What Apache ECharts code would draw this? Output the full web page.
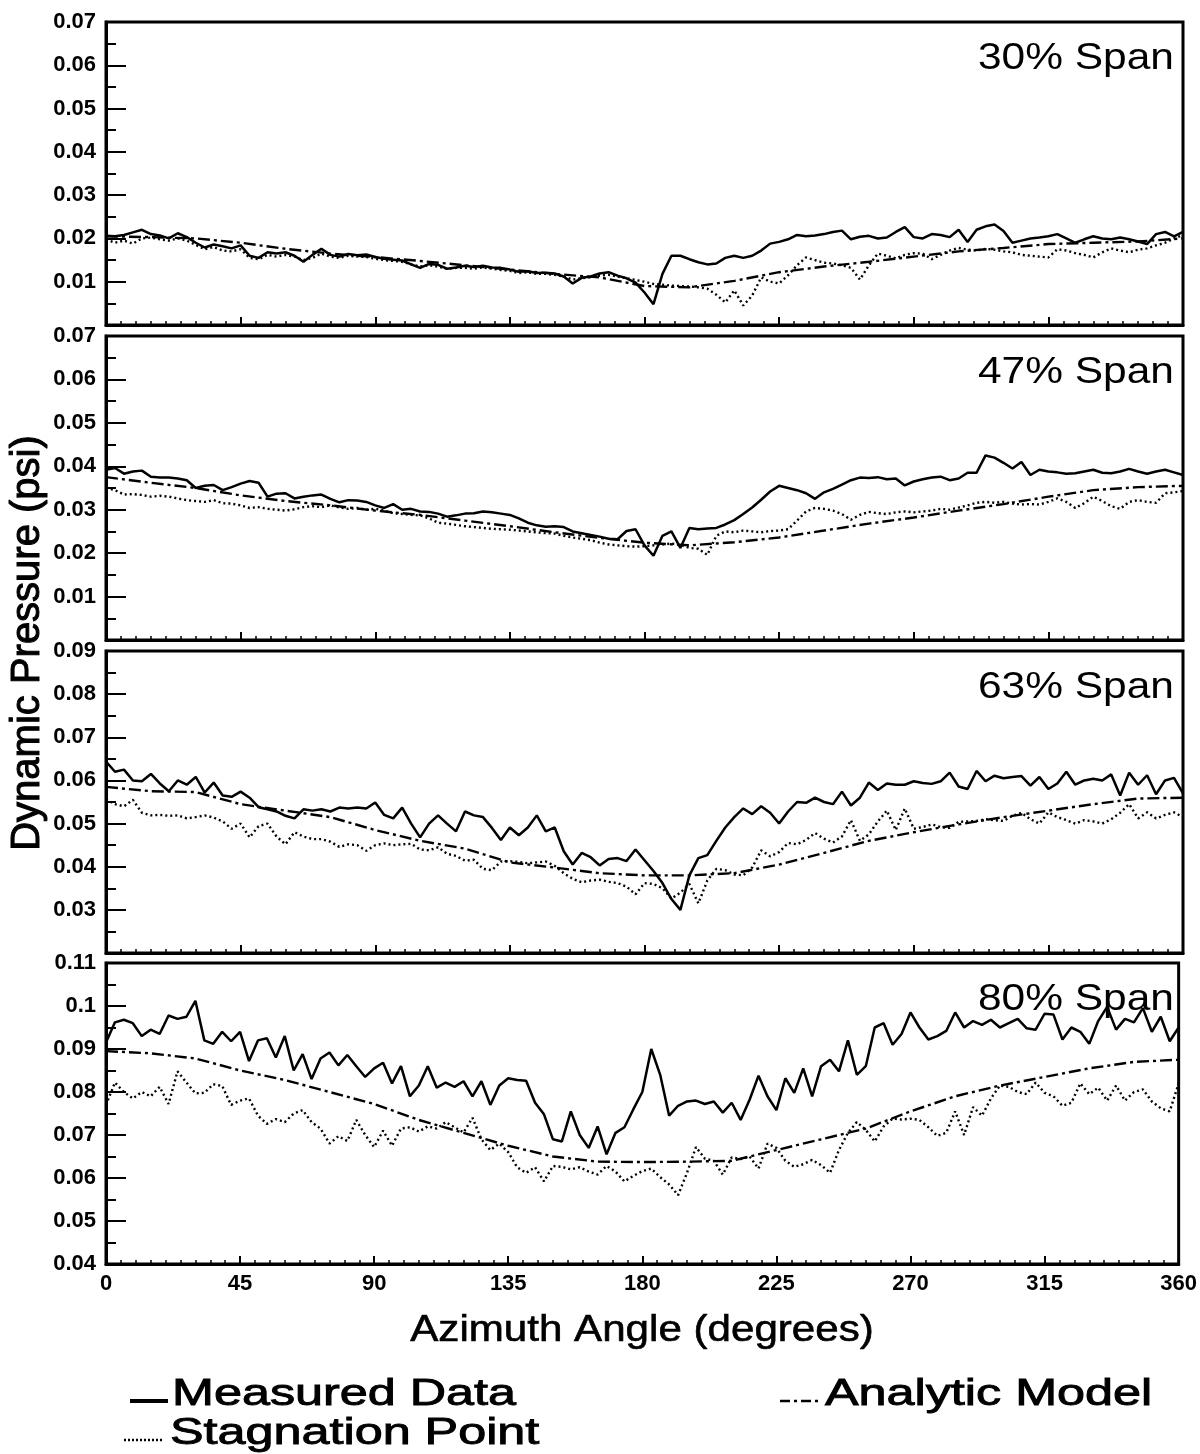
<!DOCTYPE html>
<html>
<head>
<meta charset="utf-8">
<script src="https://cdn.jsdelivr.net/npm/echarts@6/dist/echarts.min.js"></script>
<style>
  html, body { margin: 0; padding: 0; background: #fff; }
  #chart { width: 1200px; height: 1454px; }
</style>
</head>
<body>
<div id="chart"></div>
<script>
// Azimuth angles (degrees) of the sampled traces and of the analytic model
const sampleAngles = [0,3,6,9,12,15,18,21,24,27,30,33,36,39,42,45,48,51,54,57,60,63,66,69,72,75,78,81,84,87,
  90,93,96,99,102,105,108,111,114,117,120,123,126,129,132,135,138,141,144,147,150,153,156,159,162,165,168,171,174,177,
  180,183,186,189,192,195,198,201,204,207,210,213,216,219,222,225,228,231,234,237,240,243,246,249,252,255,258,261,264,267,
  270,273,276,279,282,285,288,291,294,297,300,303,306,309,312,315,318,321,324,327,330,333,336,339,342,345,348,351,354,357,360];
const modelAngles = [0,15,30,45,60,75,90,105,120,135,150,165,180,195,210,225,240,255,270,285,300,315,330,345,360];

const xTicks = [0, 45, 90, 135, 180, 225, 270, 315, 360];

// 30% span (psi)
const measured30 = [
  0.0206,0.0205,0.0208,0.0214,0.0220,0.0210,0.0207,0.0200,0.0212,0.0203,
  0.0190,0.0179,0.0186,0.0182,0.0177,0.0184,0.0160,0.0155,0.0168,0.0165,
  0.0168,0.0160,0.0146,0.0162,0.0176,0.0162,0.0158,0.0164,0.0161,0.0163,
  0.0157,0.0153,0.0151,0.0149,0.0140,0.0132,0.0141,0.0139,0.0130,0.0133,
  0.0137,0.0134,0.0137,0.0133,0.0132,0.0128,0.0123,0.0124,0.0120,0.0121,
  0.0119,0.0112,0.0096,0.0109,0.0112,0.0119,0.0122,0.0114,0.0108,0.0098,
  0.0075,0.0048,0.0118,0.0160,0.0160,0.0152,0.0145,0.0140,0.0142,0.0155,
  0.0160,0.0155,0.0160,0.0172,0.0188,0.0192,0.0198,0.0208,0.0205,0.0207,
  0.0210,0.0215,0.0218,0.0198,0.0204,0.0206,0.0200,0.0202,0.0215,0.0226,
  0.0203,0.0200,0.0210,0.0208,0.0203,0.0220,0.0192,0.0220,0.0228,0.0232,
  0.0217,0.0190,0.0195,0.0200,0.0202,0.0205,0.0210,0.0200,0.0190,0.0198,
  0.0205,0.0200,0.0198,0.0202,0.0198,0.0193,0.0187,0.0210,0.0215,0.0205,
  0.0215];
const stagnation30 = [
  0.0198,0.0190,0.0195,0.0188,0.0200,0.0202,0.0198,0.0195,0.0200,0.0195,
  0.0185,0.0175,0.0180,0.0172,0.0170,0.0175,0.0155,0.0152,0.0162,0.0158,
  0.0162,0.0158,0.0150,0.0155,0.0165,0.0158,0.0155,0.0160,0.0158,0.0157,
  0.0153,0.0150,0.0148,0.0146,0.0140,0.0135,0.0138,0.0135,0.0130,0.0132,
  0.0132,0.0130,0.0133,0.0130,0.0127,0.0125,0.0120,0.0122,0.0118,0.0118,
  0.0116,0.0112,0.0105,0.0108,0.0110,0.0114,0.0116,0.0112,0.0108,0.0104,
  0.0100,0.0095,0.0093,0.0091,0.0090,0.0089,0.0087,0.0084,0.0070,0.0052,
  0.0080,0.0045,0.0068,0.0110,0.0100,0.0096,0.0115,0.0138,0.0156,0.0150,
  0.0144,0.0142,0.0138,0.0132,0.0105,0.0138,0.0165,0.0160,0.0154,0.0162,
  0.0166,0.0165,0.0152,0.0162,0.0172,0.0178,0.0174,0.0172,0.0176,0.0174,
  0.0170,0.0168,0.0162,0.0160,0.0158,0.0156,0.0175,0.0172,0.0166,0.0162,
  0.0156,0.0168,0.0177,0.0172,0.0168,0.0174,0.0177,0.0184,0.0190,0.0200,
  0.0208];
const model30 = [0.0205,0.0203,0.0200,0.0190,0.0176,0.0165,0.0157,0.0148,0.0138,0.0128,0.0118,0.0110,
  0.0090,0.0087,0.0102,0.0122,0.0135,0.0146,0.0158,0.0170,0.0178,0.0187,0.0190,0.0193,0.0200];

// 47% span (psi)
const measured47 = [
  0.0392,0.0396,0.0383,0.0388,0.0390,0.0376,0.0374,0.0374,0.0372,0.0368,
  0.0350,0.0355,0.0357,0.0345,0.0352,0.0360,0.0366,0.0362,0.0330,0.0337,
  0.0338,0.0326,0.0330,0.0333,0.0335,0.0325,0.0317,0.0322,0.0321,0.0318,
  0.0310,0.0304,0.0313,0.0300,0.0302,0.0296,0.0295,0.0291,0.0284,0.0287,
  0.0291,0.0292,0.0296,0.0294,0.0291,0.0288,0.0280,0.0270,0.0264,0.0261,
  0.0262,0.0260,0.0250,0.0246,0.0242,0.0238,0.0233,0.0232,0.0251,0.0255,
  0.0218,0.0194,0.0240,0.0250,0.0212,0.0258,0.0255,0.0257,0.0258,0.0266,
  0.0276,0.0290,0.0305,0.0323,0.0342,0.0355,0.0350,0.0345,0.0338,0.0325,
  0.0340,0.0348,0.0358,0.0368,0.0374,0.0373,0.0375,0.0370,0.0372,0.0356,
  0.0365,0.0370,0.0374,0.0376,0.0368,0.0372,0.0385,0.0385,0.0425,0.0420,
  0.0408,0.0395,0.0410,0.0380,0.0392,0.0388,0.0386,0.0383,0.0384,0.0388,
  0.0392,0.0385,0.0384,0.0388,0.0394,0.0388,0.0383,0.0388,0.0392,0.0386,
  0.0380];
const stagnation47 = [
  0.0350,0.0345,0.0335,0.0336,0.0334,0.0330,0.0332,0.0330,0.0326,0.0322,
  0.0320,0.0318,0.0322,0.0315,0.0314,0.0310,0.0304,0.0306,0.0302,0.0300,
  0.0298,0.0301,0.0306,0.0308,0.0306,0.0310,0.0305,0.0302,0.0304,0.0300,
  0.0302,0.0298,0.0292,0.0290,0.0288,0.0287,0.0280,0.0270,0.0268,0.0265,
  0.0262,0.0260,0.0258,0.0256,0.0255,0.0254,0.0252,0.0250,0.0248,0.0246,
  0.0245,0.0240,0.0236,0.0233,0.0230,0.0224,0.0220,0.0218,0.0216,0.0215,
  0.0216,0.0218,0.0220,0.0222,0.0220,0.0212,0.0210,0.0196,0.0240,0.0250,
  0.0248,0.0252,0.0250,0.0248,0.0251,0.0252,0.0255,0.0275,0.0296,0.0304,
  0.0302,0.0298,0.0290,0.0277,0.0288,0.0295,0.0292,0.0290,0.0294,0.0296,
  0.0294,0.0296,0.0298,0.0302,0.0300,0.0305,0.0310,0.0316,0.0318,0.0316,
  0.0318,0.0314,0.0312,0.0313,0.0312,0.0318,0.0326,0.0318,0.0304,0.0315,
  0.0330,0.0320,0.0308,0.0302,0.0318,0.0322,0.0318,0.0316,0.0338,0.0340,
  0.0343];
const model47 = [0.0375,0.0362,0.0350,0.0333,0.0320,0.0310,0.0298,0.0288,0.0275,0.0262,0.0248,0.0235,
  0.0224,0.0218,0.0225,0.0236,0.0252,0.0268,0.0282,0.0298,0.0313,0.0330,0.0345,0.0352,0.0355];

// 63% span (psi)
const measured63 = [
  0.0644,0.0620,0.0625,0.0600,0.0598,0.0615,0.0593,0.0575,0.0600,0.0590,
  0.0608,0.0572,0.0595,0.0565,0.0562,0.0574,0.0560,0.0538,0.0533,0.0528,
  0.0518,0.0512,0.0533,0.0530,0.0533,0.0528,0.0537,0.0535,0.0537,0.0535,
  0.0549,0.0520,0.0512,0.0537,0.0500,0.0468,0.0500,0.0519,0.0500,0.0482,
  0.0528,0.0519,0.0515,0.0490,0.0462,0.0491,0.0473,0.0491,0.0519,0.0482,
  0.0491,0.0436,0.0405,0.0432,0.0422,0.0403,0.0418,0.0420,0.0413,0.0440,
  0.0415,0.0390,0.0362,0.0325,0.0300,0.0380,0.0420,0.0427,0.0460,0.0491,
  0.0515,0.0535,0.0522,0.0540,0.0525,0.0500,0.0528,0.0550,0.0548,0.0560,
  0.0550,0.0545,0.0574,0.0542,0.0560,0.0595,0.0578,0.0593,0.0590,0.0590,
  0.0598,0.0594,0.0592,0.0598,0.0618,0.0586,0.0580,0.0622,0.0598,0.0611,
  0.0605,0.0608,0.0610,0.0588,0.0608,0.0580,0.0593,0.0620,0.0590,0.0600,
  0.0604,0.0600,0.0614,0.0565,0.0618,0.0590,0.0612,0.0568,0.0600,0.0606,
  0.0570];
const stagnation63 = [
  0.0556,0.0545,0.0540,0.0555,0.0525,0.0519,0.0520,0.0518,0.0519,0.0512,
  0.0515,0.0519,0.0514,0.0505,0.0488,0.0500,0.0468,0.0494,0.0500,0.0470,
  0.0452,0.0480,0.0470,0.0464,0.0464,0.0458,0.0446,0.0452,0.0450,0.0437,
  0.0450,0.0454,0.0450,0.0452,0.0453,0.0440,0.0438,0.0445,0.0430,0.0425,
  0.0414,0.0416,0.0395,0.0392,0.0412,0.0413,0.0411,0.0408,0.0410,0.0412,
  0.0402,0.0385,0.0372,0.0364,0.0368,0.0370,0.0365,0.0362,0.0354,0.0336,
  0.0362,0.0360,0.0350,0.0326,0.0340,0.0360,0.0315,0.0368,0.0395,0.0392,
  0.0382,0.0380,0.0398,0.0438,0.0424,0.0434,0.0455,0.0452,0.0462,0.0478,
  0.0465,0.0456,0.0470,0.0508,0.0460,0.0475,0.0505,0.0530,0.0485,0.0535,
  0.0488,0.0492,0.0498,0.0492,0.0490,0.0504,0.0505,0.0506,0.0510,0.0508,
  0.0506,0.0518,0.0525,0.0510,0.0500,0.0526,0.0515,0.0508,0.0500,0.0508,
  0.0505,0.0500,0.0510,0.0525,0.0545,0.0512,0.0526,0.0512,0.0520,0.0526,
  0.0515];
const model63 = [0.0585,0.0575,0.0573,0.0545,0.0530,0.0515,0.0485,0.0460,0.0442,0.0410,0.0398,0.0385,
  0.0380,0.0380,0.0385,0.0405,0.0432,0.0460,0.0480,0.0498,0.0515,0.0530,0.0545,0.0558,0.0560];

// 80% span (psi)
const measured80 = [
  0.0915,0.0962,0.0968,0.0960,0.0930,0.0945,0.0935,0.0978,0.0970,0.0975,
  0.1012,0.0920,0.0912,0.0940,0.0918,0.0940,0.0872,0.0920,0.0925,0.0880,
  0.0930,0.0850,0.0888,0.0830,0.0878,0.0892,0.0862,0.0886,0.0860,0.0835,
  0.0855,0.0868,0.0820,0.0860,0.0790,0.0815,0.0860,0.0810,0.0822,0.0812,
  0.0825,0.0790,0.0825,0.0770,0.0815,0.0832,0.0828,0.0826,0.0775,0.0748,
  0.0690,0.0685,0.0755,0.0700,0.0670,0.0720,0.0655,0.0705,0.0718,0.0760,
  0.0800,0.0900,0.0840,0.0745,0.0768,0.0778,0.0780,0.0772,0.0778,0.0752,
  0.0775,0.0735,0.0782,0.0838,0.0790,0.0758,0.0832,0.0798,0.0855,0.0790,
  0.0860,0.0875,0.0848,0.0920,0.0840,0.0860,0.0950,0.0960,0.0910,0.0935,
  0.0985,0.0950,0.0922,0.0930,0.0942,0.0985,0.0950,0.0965,0.0956,0.0968,
  0.0950,0.0960,0.0970,0.0948,0.0945,0.0982,0.0980,0.0922,0.0950,0.0940,
  0.0912,0.0965,0.0998,0.0945,0.0970,0.0962,0.0995,0.0940,0.0975,0.0918,
  0.0950];
const stagnation80 = [
  0.0770,0.0822,0.0800,0.0785,0.0800,0.0790,0.0812,0.0772,0.0848,0.0822,
  0.0797,0.0798,0.0818,0.0814,0.0770,0.0780,0.0785,0.0745,0.0726,0.0737,
  0.0730,0.0750,0.0758,0.0730,0.0715,0.0680,0.0697,0.0686,0.0735,0.0700,
  0.0672,0.0710,0.0675,0.0715,0.0718,0.0708,0.0720,0.0715,0.0730,0.0718,
  0.0706,0.0740,0.0690,0.0665,0.0680,0.0660,0.0625,0.0612,0.0625,0.0592,
  0.0628,0.0626,0.0620,0.0625,0.0615,0.0608,0.0628,0.0615,0.0592,0.0605,
  0.0616,0.0622,0.0602,0.0585,0.0560,0.0612,0.0672,0.0645,0.0640,0.0608,
  0.0648,0.0644,0.0650,0.0622,0.0680,0.0670,0.0640,0.0626,0.0632,0.0642,
  0.0630,0.0612,0.0665,0.0705,0.0730,0.0712,0.0685,0.0720,0.0738,0.0736,
  0.0738,0.0735,0.0718,0.0698,0.0705,0.0755,0.0700,0.0765,0.0745,0.0785,
  0.0815,0.0812,0.0800,0.0795,0.0822,0.0798,0.0790,0.0768,0.0775,0.0820,
  0.0795,0.0810,0.0780,0.0815,0.0780,0.0800,0.0806,0.0778,0.0762,0.0755,
  0.0820];
const model80 = [0.0895,0.0890,0.0878,0.0850,0.0828,0.0800,0.0772,0.0735,0.0705,0.0675,0.0650,0.0638,
  0.0637,0.0638,0.0640,0.0665,0.0690,0.0715,0.0755,0.0790,0.0815,0.0835,0.0855,0.0870,0.0875];

const spanLabels = ['30% Span', '47% Span', '63% Span', '80% Span'];
const yMins = [0, 0, 0.02, 0.04];
const yMaxs = [0.07, 0.07, 0.09, 0.11];
const measuredSets = [measured30, measured47, measured63, measured80];
const stagnationSets = [stagnation30, stagnation47, stagnation63, stagnation80];
const modelSets = [model30, model47, model63, model80];

const FONT = '"Liberation Sans", Arial, Helvetica, sans-serif';
const PLOT_LEFT = 106, PLOT_WIDTH = 1077;
const panelTops = [22, 336, 651, 963];
const panelHeights = [303, 304, 302, 301];

const chart = echarts.init(document.getElementById('chart'), null, { renderer: 'canvas' });

const grids = [], xAxes = [], yAxes = [], series = [];
const pair = (angles, vals) => angles.map((a, k) => [a, vals[k]]);

for (let i = 0; i < 4; i++) {
  const last = i === 3;
  grids.push({
    left: PLOT_LEFT, top: panelTops[i], width: PLOT_WIDTH, height: panelHeights[i],
    show: true, borderColor: '#000', borderWidth: 3, backgroundColor: 'transparent'
  });
  xAxes.push({
    gridIndex: i, type: 'value', min: 0, max: 360, interval: 45,
    axisLine: { show: true, onZero: false, lineStyle: { color: '#000', width: 3 } },
    axisTick: { show: true, inside: true, length: 8, lineStyle: { color: '#000', width: 2 } },
    minorTick: { show: true, splitNumber: 9, length: 4, lineStyle: { color: '#000', width: 1.5 } },
    splitLine: { show: false },
    axisLabel: {
      show: last, margin: 9, color: '#000', fontFamily: FONT, fontSize: 22, fontWeight: 'bold',
      formatter: v => (xTicks.indexOf(v) >= 0 ? String(v) : '')
    }
  });
  yAxes.push({
    gridIndex: i, type: 'value', min: yMins[i], max: yMaxs[i], interval: 0.01,
    axisLine: { show: true, onZero: false, lineStyle: { color: '#000', width: 3 } },
    axisTick: { show: true, inside: true, length: 20, lineStyle: { color: '#000', width: 2 } },
    minorTick: { show: true, splitNumber: 2, length: 10, lineStyle: { color: '#000', width: 2 } },
    splitLine: { show: false },
    axisLabel: {
      show: true, showMinLabel: last, showMaxLabel: true, margin: 10, color: '#000',
      fontFamily: FONT, fontSize: 22, fontWeight: 'bold',
      formatter: v => String(Math.round(v * 100) / 100)
    }
  });
  series.push({
    name: 'Measured Data', type: 'line', xAxisIndex: i, yAxisIndex: i,
    data: pair(sampleAngles, measuredSets[i]), symbol: 'none', z: 4,
    lineStyle: { color: '#000', width: 2.5 }
  });
  series.push({
    name: 'Analytic Model', type: 'line', xAxisIndex: i, yAxisIndex: i,
    data: pair(modelAngles, modelSets[i]), symbol: 'none', z: 3,
    lineStyle: { color: '#000', width: 2.4, type: [12, 4, 3, 4] }
  });
  series.push({
    name: 'Stagnation Point', type: 'line', xAxisIndex: i, yAxisIndex: i,
    data: pair(sampleAngles, stagnationSets[i]), symbol: 'none', z: 2,
    lineStyle: { color: '#000', width: 2.4, type: [2, 3] }
  });
}

// Panel captions, axis titles and the key below the plots
const graphics = [];
for (let i = 0; i < 4; i++) {
  graphics.push({
    type: 'text', x: 1174, y: panelTops[i] + 37, scaleX: 1.18, z: 10,
    style: { text: spanLabels[i], font: '36px ' + FONT, fill: '#000', textAlign: 'right', textVerticalAlign: 'middle' }
  });
}
graphics.push({
  type: 'text', x: 28, y: 643, rotation: Math.PI / 2, z: 10,
  style: { text: 'Dynamic Pressure (psi)', font: '40px ' + FONT, fill: '#000', stroke: '#000', lineWidth: 1,
    textAlign: 'center', textVerticalAlign: 'middle' }
});
graphics.push({
  type: 'text', x: 642, y: 1331, scaleX: 1.17, z: 10,
  style: { text: 'Azimuth Angle (degrees)', font: '36px ' + FONT, fill: '#000', stroke: '#000', lineWidth: 0.6,
    textAlign: 'center', textVerticalAlign: 'middle' }
});

const keyFont = '37px ' + FONT;
const keyItems = [
  { text: 'Measured Data', x0: 130, x1: 168, tx: 172, y: 1395, dash: null },
  { text: 'Analytic Model', x0: 780, x1: 822, tx: 825, y: 1395, dash: [10, 4, 3, 4] },
  { text: 'Stagnation Point', x0: 124, x1: 162, tx: 170, y: 1434, dash: [2, 2] }
];
keyItems.forEach(k => {
  graphics.push({
    type: 'line', z: 10,
    shape: { x1: k.x0, y1: k.y + 6, x2: k.x1, y2: k.y + 6 },
    style: { stroke: '#000', lineWidth: k.dash ? 2.5 : 4, lineDash: k.dash || null }
  });
  graphics.push({
    type: 'text', x: k.tx, y: k.y, scaleX: 1.36, z: 10,
    style: { text: k.text, font: keyFont, fill: '#000', stroke: '#000', lineWidth: 0.9,
      textAlign: 'left', textVerticalAlign: 'middle' }
  });
});

chart.setOption({
  animation: false,
  backgroundColor: '#fff',
  grid: grids,
  xAxis: xAxes,
  yAxis: yAxes,
  series: series,
  graphic: { elements: graphics }
});
</script>
</body>
</html>
